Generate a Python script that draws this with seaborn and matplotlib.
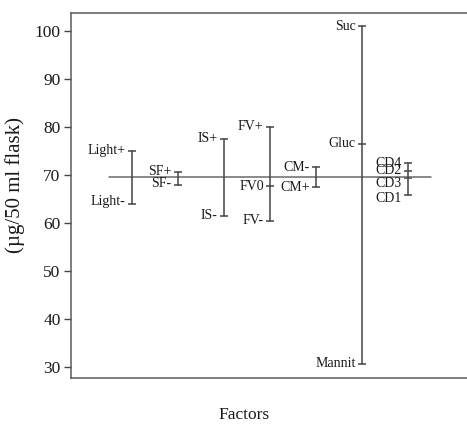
import matplotlib
matplotlib.use("Agg")
import matplotlib.pyplot as plt
import seaborn as sns
import pandas as pd

# ---- data ----
factors = ["Light", "SF", "IS", "FV", "CM", "Sugar", "CD"]
level_labels = [
    ["Light+", "Light-"],
    ["SF+", "SF-"],
    ["IS+", "IS-"],
    ["FV+", "FV0", "FV-"],
    ["CM-", "CM+"],
    ["Suc", "Gluc", "Mannit"],
    ["CD4", "CD2", "CD3", "CD1"],
]
level_values = [
    [75.0, 64.0],
    [70.7, 68.0],
    [77.5, 61.5],
    [80.0, 67.7, 60.5],
    [71.6, 67.4],
    [101.0, 76.5, 30.7],
    [72.4, 70.9, 69.3, 65.8],
]
grand_mean = 69.6
y_ticks = [30, 40, 50, 60, 70, 80, 90, 100]

rows = []
for i, (f, labs, vals) in enumerate(zip(factors, level_labels, level_values)):
    for lab, v in zip(labs, vals):
        rows.append({"factor": f, "pos": i + 1, "level": lab, "value": v})
df = pd.DataFrame(rows)

sns.set_theme(style="white")
plt.rcParams["font.family"] = ["Liberation Serif", "DejaVu Serif"]

W, H = 467, 424
fig = plt.figure(figsize=(W / 100, H / 100), dpi=100)
ax = fig.add_axes([71 / W, 1 - 378 / H, (W - 71) / W, (378 - 13) / H])

line_col = "#444444"
text_col = "#1a1a1a"

# vertical range lines per factor
sns.lineplot(data=df, x="pos", y="value", units="factor", estimator=None,
             sort=True, color=line_col, linewidth=1.1, ax=ax, legend=False)
# small caps / ticks at each level
sns.scatterplot(data=df, x="pos", y="value", marker="_", s=28, color=line_col,
                linewidth=1.1, ax=ax, legend=False)

# grand mean line
ax.plot([0.5, len(factors) + 0.5], [grand_mean, grand_mean], color="#6a6a6a",
        linewidth=1.1, zorder=1)

# text offsets (points) for crowded labels
label_dy = {"CD3": -3.5, "CD1": -2.5, "Light-": 1.5, "SF-": 1.0}
for _, r in df.iterrows():
    ax.annotate(r["level"], (r["pos"], r["value"]),
                xytext=(-4.5, label_dy.get(r["level"], 0)), textcoords="offset points",
                ha="right", va="center", fontsize=10, color=text_col)

ax.set_xlim(-0.32, 8.28)
ax.set_ylim(27.7, 103.75)
ax.set_xticks([])
ax.set_yticks(y_ticks)
ax.tick_params(axis="y", left=True, length=5, width=1, color=line_col,
               pad=2.5, labelsize=12.5, labelcolor=text_col)

for s in ["left", "top", "bottom"]:
    ax.spines[s].set_visible(True)
    ax.spines[s].set_color("#5a5a5a")
    ax.spines[s].set_linewidth(1.1)
ax.spines["right"].set_visible(False)

ax.set_xlabel("Factors", fontsize=12.5, color=text_col)
ax.xaxis.set_label_coords(0.437, -0.08)
ax.set_ylabel("(µg/50 ml flask)", fontsize=15, color=text_col)
ax.yaxis.set_label_coords(-0.115, 0.53)

fig.savefig("out.png", dpi=100)
